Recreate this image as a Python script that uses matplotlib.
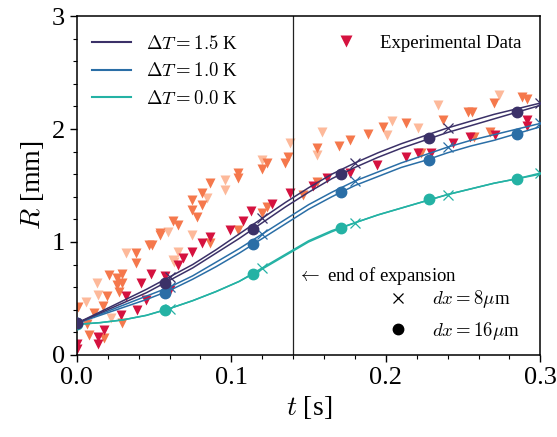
import matplotlib
matplotlib.use('Agg')
import matplotlib.pyplot as plt
from matplotlib.lines import Line2D

plt.rcParams['font.family'] = 'serif'
plt.rcParams['font.serif'] = ['Liberation Serif', 'DejaVu Serif']
plt.rcParams['mathtext.fontset'] = 'cm'

# simulation curves on a common time grid
t_sim = [0.000, 0.015, 0.030, 0.045, 0.060, 0.075, 0.090, 0.105, 0.120, 0.135, 0.150,
         0.165, 0.180, 0.195, 0.210, 0.225, 0.240, 0.255, 0.270, 0.285, 0.300]

# dT = 1.5 K
r15_dx8 = [0.28, 0.38, 0.48, 0.58, 0.69, 0.80, 0.93, 1.07, 1.21, 1.35, 1.48,
           1.60, 1.70, 1.79, 1.87, 1.94, 2.01, 2.07, 2.13, 2.18, 2.23]
r15_dx16 = [0.28, 0.37, 0.46, 0.55, 0.66, 0.77, 0.90, 1.03, 1.17, 1.31, 1.44,
            1.56, 1.66, 1.75, 1.83, 1.90, 1.97, 2.03, 2.09, 2.15, 2.21]
# dT = 1.0 K
r10_dx8 = [0.28, 0.36, 0.44, 0.52, 0.60, 0.70, 0.82, 0.94, 1.07, 1.20, 1.33,
           1.44, 1.54, 1.62, 1.70, 1.77, 1.84, 1.90, 1.95, 2.00, 2.05]
r10_dx16 = [0.28, 0.35, 0.42, 0.49, 0.57, 0.67, 0.78, 0.90, 1.03, 1.16, 1.29,
            1.40, 1.50, 1.58, 1.66, 1.72, 1.79, 1.85, 1.90, 1.96, 2.02]
# dT = 0.0 K
r00_dx8 = [0.27, 0.285, 0.31, 0.35, 0.41, 0.48, 0.56, 0.65, 0.77, 0.89, 1.01,
           1.10, 1.17, 1.24, 1.30, 1.36, 1.42, 1.47, 1.52, 1.56, 1.61]
r00_dx16 = [0.27, 0.285, 0.31, 0.35, 0.41, 0.48, 0.56, 0.65, 0.76, 0.88, 1.00,
            1.09, 1.17, 1.24, 1.30, 1.36, 1.42, 1.47, 1.52, 1.56, 1.60]

# marker positions (crosses for dx=8um, dots for dx=16um)
t_cross = [0.06, 0.12, 0.18, 0.24, 0.30]
r15_cross = [0.69, 1.21, 1.70, 2.01, 2.23]
r10_cross = [0.60, 1.07, 1.54, 1.84, 2.05]
r00_cross = [0.41, 0.77, 1.17, 1.42, 1.61]

t_dot = [0.0, 0.057, 0.114, 0.171, 0.228, 0.285]
r15_dot = [0.28, 0.64, 1.115, 1.60, 1.92, 2.15]
r10_dot = [0.28, 0.55, 0.98, 1.44, 1.73, 1.96]
r00_dot = [0.27, 0.40, 0.72, 1.12, 1.38, 1.56]

# experimental data (several runs)
t_exp_a = [0.000, 0.000, 0.014, 0.014, 0.0175, 0.0285, 0.032, 0.039, 0.0415, 0.045,
           0.048, 0.057, 0.060, 0.0655, 0.069, 0.0745, 0.081, 0.086, 0.099, 0.1075,
           0.113, 0.126, 0.138, 0.153, 0.162, 0.177, 0.1945, 0.213, 0.221, 0.229,
           0.2435, 0.2545, 0.271, 0.2915, 0.2915]
r_exp_a = [0.10, 0.05, 0.16, 0.10, 0.22, 0.35, 0.52, 0.40, 0.64, 0.49,
           0.72, 0.70, 0.57, 0.80, 0.86, 0.91, 0.99, 1.04, 1.11, 1.19,
           1.27, 1.34, 1.43, 1.50, 1.57, 1.61, 1.68, 1.75, 1.79, 1.79,
           1.88, 1.93, 1.95, 2.08, 2.03]

t_exp_b = [0.001, 0.0065, 0.008, 0.011, 0.017, 0.0175, 0.0195, 0.0207, 0.026, 0.026,
           0.0275, 0.029, 0.029, 0.029, 0.038, 0.038, 0.047, 0.0485, 0.054, 0.054,
           0.062, 0.0655, 0.0745, 0.0745, 0.078, 0.081, 0.081, 0.086, 0.086, 0.104,
           0.104, 0.104, 0.120, 0.120, 0.123, 0.123, 0.135, 0.137, 0.1465, 0.1555,
           0.1555, 0.170, 0.177, 0.1885, 0.198, 0.213, 0.2225, 0.237, 0.253, 0.256,
           0.257, 0.2675, 0.270, 0.288, 0.2915]
r_exp_b = [0.42, 0.27, 0.18, 0.37, 0.43, 0.15, 0.52, 0.71, 0.68, 0.62,
           0.56, 0.72, 0.64, 0.28, 0.90, 0.81, 0.97, 0.97, 1.08, 1.06,
           1.19, 1.15, 1.37, 1.28, 1.22, 1.43, 1.33, 1.52, 0.99, 1.61,
           1.57, 1.11, 1.26, 1.65, 1.70, 1.31, 1.70, 1.75, 1.42, 1.53,
           1.83, 1.85, 1.90, 1.96, 2.02, 2.05, 1.79, 2.08, 2.15, 2.15,
           1.93, 1.97, 2.23, 2.28, 2.27]

t_exp_c = [0.006, 0.013, 0.0135, 0.022, 0.032, 0.059, 0.062, 0.063, 0.0655, 0.0745,
           0.084, 0.096, 0.096, 0.120, 0.138, 0.1555, 0.159, 0.201, 0.204, 0.221,
           0.234, 0.2735]
r_exp_c = [0.47, 0.64, 0.53, 0.33, 0.90, 1.09, 0.84, 0.82, 0.91, 1.06,
           1.39, 1.55, 1.46, 1.73, 1.88, 1.77, 1.97, 1.95, 2.07, 2.01,
           2.21, 2.30]

c15 = '#3b3168'
c10 = '#2a6ea6'
c00 = '#24b2a4'

fig = plt.figure(figsize=(5.57, 4.37), dpi=100)
ax = fig.add_axes([0.138, 0.188, 0.832, 0.775])

# experimental points
ax.plot(t_exp_c, r_exp_c, 'v', color='#fdb99a', ms=6.5, mec='none', zorder=1)
ax.plot(t_exp_b, r_exp_b, 'v', color='#f5784c', ms=6.5, mec='none', zorder=1)
ax.plot(t_exp_a, r_exp_a, 'v', color='#d5123f', ms=6.5, mec='none', zorder=1)

# simulations
for r8, r16, rc, rd, col in [(r00_dx8, r00_dx16, r00_cross, r00_dot, c00),
                             (r10_dx8, r10_dx16, r10_cross, r10_dot, c10),
                             (r15_dx8, r15_dx16, r15_cross, r15_dot, c15)]:
    ax.plot(t_sim, r8, '-', color=col, lw=1.1, zorder=3)
    ax.plot(t_sim, r16, '-', color=col, lw=1.1, zorder=3)
    ax.plot(t_cross, rc, 'x', color=col, ms=7, mew=0.9, zorder=4)
    ax.plot(t_dot, rd, 'o', color=col, ms=7.5, zorder=4)

ax.axvline(0.14, color='#222222', lw=0.9, zorder=2)
ax.text(0.1425, 0.70, r'$\leftarrow$ end of expansion', fontsize=13.5, va='center')

ax.set_xlim(0, 0.3)
ax.set_ylim(0, 3)
ax.set_xticks([0.0, 0.1, 0.2, 0.3])
ax.set_xticklabels(['0.0', '0.1', '0.2', '0.3'])
ax.set_yticks([0, 1, 2, 3])
ax.set_xticks([i * 0.02 for i in range(16)], minor=True)
ax.set_yticks([i * 0.2 for i in range(16)], minor=True)
ax.tick_params(which='major', direction='out', length=5, width=1, labelsize=19)
ax.tick_params(which='minor', direction='out', length=3, width=0.8)
for s in ax.spines.values():
    s.set_linewidth(1.1)

ax.set_xlabel(r'$t$ [s]', fontsize=20)
ax.set_ylabel(r'$R$ [mm]', fontsize=20)

# legends
h1 = [Line2D([], [], color=c15, lw=1.5, label=r'$\Delta T = 1.5$ K'),
      Line2D([], [], color=c10, lw=1.5, label=r'$\Delta T = 1.0$ K'),
      Line2D([], [], color=c00, lw=1.5, label=r'$\Delta T = 0.0$ K')]
leg1 = ax.legend(handles=h1, loc='upper left', bbox_to_anchor=(-0.008, 1.0),
                 frameon=False, fontsize=13.5, handlelength=2.1,
                 labelspacing=0.5, borderaxespad=0.6)
ax.add_artist(leg1)

h2 = [Line2D([], [], ls='none', marker='v', color='#d5123f', ms=8, mec='none',
             label='Experimental Data')]
leg2 = ax.legend(handles=h2, loc='upper right', frameon=False, fontsize=13.5,
                 borderaxespad=0.6)
ax.add_artist(leg2)

h3 = [Line2D([], [], ls='none', marker='x', color='black', ms=7, mew=0.9, label=r'$dx = 8\mu$m'),
      Line2D([], [], ls='none', marker='o', color='black', ms=7.5, label=r'$dx = 16\mu$m')]
ax.legend(handles=h3, loc='lower right', bbox_to_anchor=(0.985, 0.0),
          frameon=False, fontsize=13.5, labelspacing=0.5, borderaxespad=0.3)

plt.savefig('out.png', dpi=100)
